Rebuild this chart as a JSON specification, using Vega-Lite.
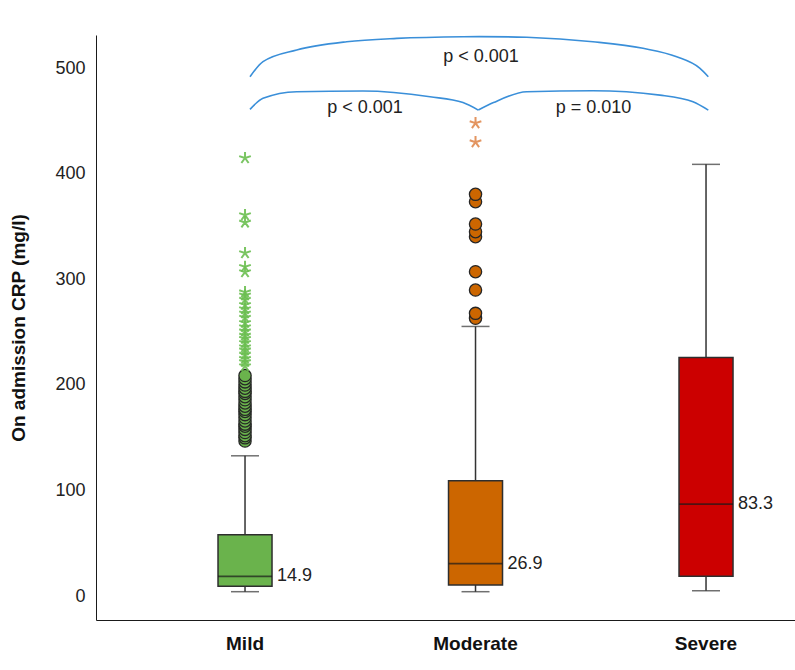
{
  "$schema": "https://vega.github.io/schema/vega-lite/v6.json",
  "width": 699,
  "height": 585,
  "autosize": {"type": "none"},
  "padding": {"left": 96, "top": 35, "right": 0, "bottom": 50},
  "background": "white",
  "config": {
    "view": {"stroke": null},
    "font": "Liberation Sans",
    "axisY": {
      "ticks": false, "grid": false, "domainColor": "#1a1a1a", "domainWidth": 1,
      "labelFontSize": 18, "labelColor": "#222222", "labelPadding": 11, "labelOffset": 4,
      "titleFontSize": 19, "titleFontWeight": "bold", "titleColor": "#111111",
      "titleX": -78, "titleBaseline": "middle"
    },
    "axisX": {
      "ticks": false, "grid": false, "domainColor": "#1a1a1a", "domainWidth": 1,
      "labelFontSize": 19, "labelFontWeight": "bold", "labelColor": "#111111",
      "labelPadding": 14, "labelAngle": 0
    }
  },
  "datasets": {
    "boxes": [
      {"group": "Mild", "lower": 0.3, "q1": 5.4, "median": 14.9, "q3": 54.3, "upper": 129},
      {"group": "Moderate", "lower": 0.3, "q1": 6.6, "median": 26.9, "q3": 105.4, "upper": 251.5},
      {"group": "Severe", "lower": 1.2, "q1": 15, "median": 83.3, "q3": 222, "upper": 405}
    ],
    "circles": [
      {"group": "Mild", "crp": 143}, {"group": "Mild", "crp": 146}, {"group": "Mild", "crp": 148},
      {"group": "Mild", "crp": 151}, {"group": "Mild", "crp": 154}, {"group": "Mild", "crp": 157},
      {"group": "Mild", "crp": 159}, {"group": "Mild", "crp": 162}, {"group": "Mild", "crp": 165},
      {"group": "Mild", "crp": 168}, {"group": "Mild", "crp": 171}, {"group": "Mild", "crp": 173},
      {"group": "Mild", "crp": 176}, {"group": "Mild", "crp": 179}, {"group": "Mild", "crp": 182},
      {"group": "Mild", "crp": 185}, {"group": "Mild", "crp": 188}, {"group": "Mild", "crp": 190},
      {"group": "Mild", "crp": 193}, {"group": "Mild", "crp": 196}, {"group": "Mild", "crp": 199},
      {"group": "Mild", "crp": 202}, {"group": "Mild", "crp": 205},
      {"group": "Moderate", "crp": 259.2}, {"group": "Moderate", "crp": 263.9}, {"group": "Moderate", "crp": 286},
      {"group": "Moderate", "crp": 303.3}, {"group": "Moderate", "crp": 336.5}, {"group": "Moderate", "crp": 341.2},
      {"group": "Moderate", "crp": 348.5}, {"group": "Moderate", "crp": 369.6}, {"group": "Moderate", "crp": 376.6}
    ],
    "stars": [
      {"group": "Mild", "crp": 214}, {"group": "Mild", "crp": 218}, {"group": "Mild", "crp": 221},
      {"group": "Mild", "crp": 225}, {"group": "Mild", "crp": 229}, {"group": "Mild", "crp": 232},
      {"group": "Mild", "crp": 236}, {"group": "Mild", "crp": 240}, {"group": "Mild", "crp": 243},
      {"group": "Mild", "crp": 247}, {"group": "Mild", "crp": 251}, {"group": "Mild", "crp": 255},
      {"group": "Mild", "crp": 260}, {"group": "Mild", "crp": 264}, {"group": "Mild", "crp": 268},
      {"group": "Mild", "crp": 272}, {"group": "Mild", "crp": 277}, {"group": "Mild", "crp": 281},
      {"group": "Mild", "crp": 284}, {"group": "Mild", "crp": 303}, {"group": "Mild", "crp": 308},
      {"group": "Mild", "crp": 321}, {"group": "Mild", "crp": 350}, {"group": "Mild", "crp": 357},
      {"group": "Mild", "crp": 411},
      {"group": "Moderate", "crp": 426}, {"group": "Moderate", "crp": 444}
    ],
    "braces": [
      {"part": "outer", "u": 1.0217, "v": 488.0}, {"part": "outer", "u": 1.0781, "v": 502.2},
      {"part": "outer", "u": 1.2243, "v": 513.3}, {"part": "outer", "u": 1.4412, "v": 521.1},
      {"part": "outer", "u": 1.6581, "v": 524.3}, {"part": "outer", "u": 1.9458, "v": 525.9},
      {"part": "outer", "u": 2.0158, "v": 526.0}, {"part": "outer", "u": 2.2221, "v": 525.3},
      {"part": "outer", "u": 2.5098, "v": 521.1}, {"part": "outer", "u": 2.7267, "v": 514.9},
      {"part": "outer", "u": 2.8729, "v": 506.9}, {"part": "outer", "u": 2.9740, "v": 495.9},
      {"part": "outer", "u": 3.0100, "v": 488.0},
      {"part": "innerL", "u": 1.0217, "v": 457.1}, {"part": "innerL", "u": 1.0781, "v": 467.5},
      {"part": "innerL", "u": 1.2243, "v": 473.8}, {"part": "innerL", "u": 1.5119, "v": 474.4},
      {"part": "innerL", "u": 1.8026, "v": 469.0}, {"part": "innerL", "u": 1.9458, "v": 463.5},
      {"part": "innerL", "u": 2.0121, "v": 456.4},
      {"part": "innerR", "u": 2.0121, "v": 456.4}, {"part": "innerR", "u": 2.0781, "v": 463.5},
      {"part": "innerR", "u": 2.2221, "v": 473.8}, {"part": "innerR", "u": 2.5098, "v": 474.7},
      {"part": "innerR", "u": 2.8004, "v": 470.6}, {"part": "innerR", "u": 2.9436, "v": 464.3},
      {"part": "innerR", "u": 3.0100, "v": 456.4}
    ],
    "pvals": [
      {"label": "p < 0.001", "u": 2.0239, "v": 506.5},
      {"label": "p < 0.001", "u": 1.5206, "v": 458.3},
      {"label": "p = 0.010", "u": 2.512, "v": 458.3}
    ]
  },
  "layer": [
    {
      "encoding": {
        "x": {
          "field": "group", "type": "nominal", "sort": ["Mild", "Moderate", "Severe"], "title": null,
          "scale": {"paddingInner": 0.5, "paddingOuter": 0.26625, "align": 0.7446}
        }
      },
      "layer": [
        {
          "data": {"name": "boxes"},
          "mark": {"type": "rule", "color": "#333333", "strokeWidth": 1.5},
          "encoding": {
            "y": {"field": "lower", "type": "quantitative", "title": "On admission CRP (mg/l)",
                  "scale": {"domain": [-26.5, 527.5], "nice": false, "zero": false},
                  "axis": {"values": [0, 100, 200, 300, 400, 500]}},
            "y2": {"field": "upper"}
          }
        },
        {
          "data": {"name": "boxes"},
          "mark": {"type": "tick", "color": "#333333", "size": 28, "thickness": 1.5},
          "encoding": {"y": {"field": "lower", "type": "quantitative", "title": "On admission CRP (mg/l)"}}
        },
        {
          "data": {"name": "boxes"},
          "mark": {"type": "tick", "color": "#333333", "size": 28, "thickness": 1.5},
          "encoding": {"y": {"field": "upper", "type": "quantitative", "title": "On admission CRP (mg/l)"}}
        },
        {
          "data": {"name": "boxes"},
          "mark": {"type": "bar", "width": 54, "stroke": "#2e2e2e", "strokeWidth": 1.5},
          "encoding": {
            "y": {"field": "q1", "type": "quantitative", "title": "On admission CRP (mg/l)"},
            "y2": {"field": "q3"},
            "fill": {"field": "group", "type": "nominal", "legend": null,
                     "scale": {"domain": ["Mild", "Moderate", "Severe"], "range": ["#6ab34c", "#cc6600", "#cc0000"]}}
          }
        },
        {
          "data": {"name": "boxes"},
          "mark": {"type": "tick", "color": "#1a1a1a", "size": 54, "thickness": 1.8},
          "encoding": {"y": {"field": "median", "type": "quantitative", "title": "On admission CRP (mg/l)"}}
        },
        {
          "data": {"name": "boxes"},
          "mark": {"type": "text", "align": "left", "baseline": "middle", "dx": 32, "fontSize": 18, "color": "#222222"},
          "encoding": {
            "y": {"field": "median", "type": "quantitative", "title": "On admission CRP (mg/l)"},
            "text": {"field": "median", "type": "quantitative", "format": ".1f"}
          }
        },
        {
          "data": {"name": "circles"},
          "mark": {"type": "point", "shape": "circle", "filled": true, "size": 150, "opacity": 1, "stroke": "#262626", "strokeWidth": 1.3},
          "encoding": {
            "y": {"field": "crp", "type": "quantitative", "title": "On admission CRP (mg/l)"},
            "fill": {"field": "group", "type": "nominal", "legend": null}
          }
        },
        {
          "data": {"name": "stars"},
          "mark": {"type": "point", "shape": "M0,0L0,-1M0,0L0.951,-0.309M0,0L-0.951,-0.309M0,0L0.588,0.809M0,0L-0.588,0.809", "filled": false, "size": 150, "opacity": 0.9, "strokeWidth": 2},
          "encoding": {
            "y": {"field": "crp", "type": "quantitative", "title": "On admission CRP (mg/l)"},
            "stroke": {"field": "group", "type": "nominal", "legend": null,
                       "scale": {"domain": ["Mild", "Moderate"], "range": ["#6cbf52", "#e08a50"]}}
          }
        }
      ]
    },
    {
      "encoding": {
        "x": {"field": "u", "type": "quantitative", "axis": null,
              "scale": {"domain": [0.35358, 3.38612], "nice": false, "zero": false}}
      },
      "layer": [
        {
          "data": {"name": "braces"},
          "mark": {"type": "line", "interpolate": "monotone", "color": "#3a8fd9", "strokeWidth": 1.6},
          "encoding": {
            "y": {"field": "v", "type": "quantitative", "title": "On admission CRP (mg/l)"},
            "detail": {"field": "part", "type": "nominal"}
          }
        },
        {
          "data": {"name": "pvals"},
          "mark": {"type": "text", "align": "center", "baseline": "middle", "fontSize": 18, "color": "#222222"},
          "encoding": {
            "y": {"field": "v", "type": "quantitative", "title": "On admission CRP (mg/l)"},
            "text": {"field": "label", "type": "nominal"}
          }
        }
      ]
    }
  ],
  "resolve": {"scale": {"x": "independent"}}
}
